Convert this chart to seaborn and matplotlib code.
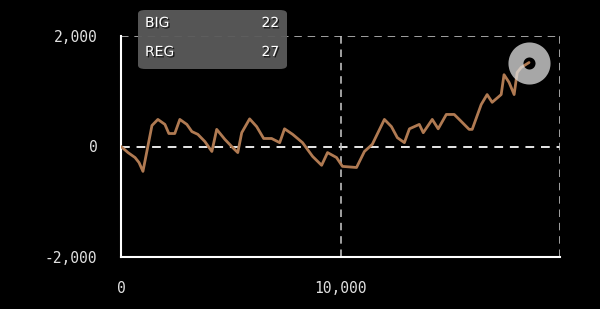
import matplotlib
matplotlib.use("Agg")
import matplotlib.pyplot as plt
import matplotlib.patheffects as pe
from matplotlib.patches import FancyBboxPatch
import seaborn as sns
import pandas as pd

# ---- data ----
games = [0, 320, 640, 820, 1000, 1410, 1680, 2000, 2180, 2450, 2680, 3000, 3230,
         3500, 3820, 4140, 4360, 4730, 5090, 5320, 5500, 5860, 6180, 6500, 6860,
         7230, 7450, 7820, 8270, 8730, 9140, 9410, 9820, 10090, 10730, 11090,
         11450, 12000, 12320, 12590, 12910, 13140, 13590, 13770, 14180, 14450,
         14820, 15180, 15410, 15860, 16000, 16410, 16680, 16910, 17320, 17450,
         17680, 17910, 18050, 18230, 18590]
diff = [0, -110, -200, -290, -450, 380, 490, 400, 235, 235,
        490, 400, 270, 220, 90, -90, 310, 130, -20, -110,
        250, 500, 360, 145, 145, 70, 320, 220, 70, -180,
        -340, -110, -200, -360, -380, -90, 40, 490, 360, 160,
        70, 320, 400, 250, 490, 320, 580, 580, 490, 310,
        310, 760, 940, 800, 940, 1300, 1160, 940, 1340, 1430,
        1520]

x_ticks = [0, 10000, 20000]
x_tick_labels = ["0", "10,000", ""]
y_ticks = [-2000, 0, 2000]
y_tick_labels = ["-2,000", "0", "2,000"]

tip_labels = ["BIG", "REG"]
tip_values = ["22", "27"]

df = pd.DataFrame({"games": games, "diff": diff})

# ---- style ----
sns.set_style("dark")
plt.rcParams["font.family"] = ["DejaVu Sans"]

fig = plt.figure(figsize=(6, 3.09), dpi=100, facecolor="black")
ax = fig.add_axes([121 / 600, 1 - 257 / 309, (560 - 121) / 600, (257 - 36) / 309])
ax.set_facecolor("black")

line_color = "#b07a52"
grid_color = "#bdbdbd"

# grid lines
ax.axhline(0, color="#e8e8e8", lw=1.4, dashes=(4.5, 3.5), zorder=1)
ax.axhline(2000, color=grid_color, lw=1.2, dashes=(4.5, 3.5), zorder=1)
for xv in [10000, 20000]:
    ax.axvline(xv, color=grid_color, lw=1.2, dashes=(4.5, 3.5), zorder=1)

sns.lineplot(data=df, x="games", y="diff", ax=ax, color=line_color,
             lw=2.0, zorder=3, estimator=None, sort=False)

# end marker ring
ax.plot([games[-1]], [diff[-1]], marker="o", markersize=19.5,
        markerfacecolor="none", markeredgecolor=(0.88, 0.88, 0.88, 0.75),
        markeredgewidth=10.8, zorder=4, clip_on=False)

ax.set_xlim(0, 20000)
ax.set_ylim(-2000, 2000)
ax.set_xticks(x_ticks)
ax.set_xticklabels(x_tick_labels)
ax.set_yticks(y_ticks)
ax.set_yticklabels(y_tick_labels)
ax.set_xlabel("")
ax.set_ylabel("")

for side in ["top", "right"]:
    ax.spines[side].set_visible(False)
for side in ["left", "bottom"]:
    ax.spines[side].set_visible(True)
    ax.spines[side].set_color("white")
    ax.spines[side].set_linewidth(1.5)

ax.tick_params(axis="both", colors="white", direction="out", length=6,
               width=1.5, labelcolor="#e0e0e0", labelsize=10.5)
ax.tick_params(axis="y", pad=11)
ax.tick_params(axis="x", pad=11)
for lab in ax.get_xticklabels() + ax.get_yticklabels():
    lab.set_family("DejaVu Sans Mono")
ax.grid(False)

# tooltip box
box = FancyBboxPatch((138 / 600, 1 - 69 / 309), (287 - 138) / 600, (69 - 10) / 309,
                     boxstyle="round,pad=0,rounding_size=0.012",
                     transform=fig.transFigure, facecolor="#5a5a5a",
                     edgecolor="none", alpha=0.95, zorder=5)
fig.patches.append(box)
shadow = [pe.withSimplePatchShadow(offset=(1, -1), shadow_rgbFace="black", alpha=0.7)]
for i, (lab, val) in enumerate(zip(tip_labels, tip_values)):
    yy = 1 - (23 + 29 * i) / 309
    fig.text(145 / 600, yy, lab, color="white", fontsize=10, va="center",
             ha="left", path_effects=shadow, zorder=6)
    fig.text(279 / 600, yy, val, color="white", fontsize=10, va="center",
             ha="right", path_effects=shadow, zorder=6)

fig.savefig("out.png", dpi=100, facecolor="black")
